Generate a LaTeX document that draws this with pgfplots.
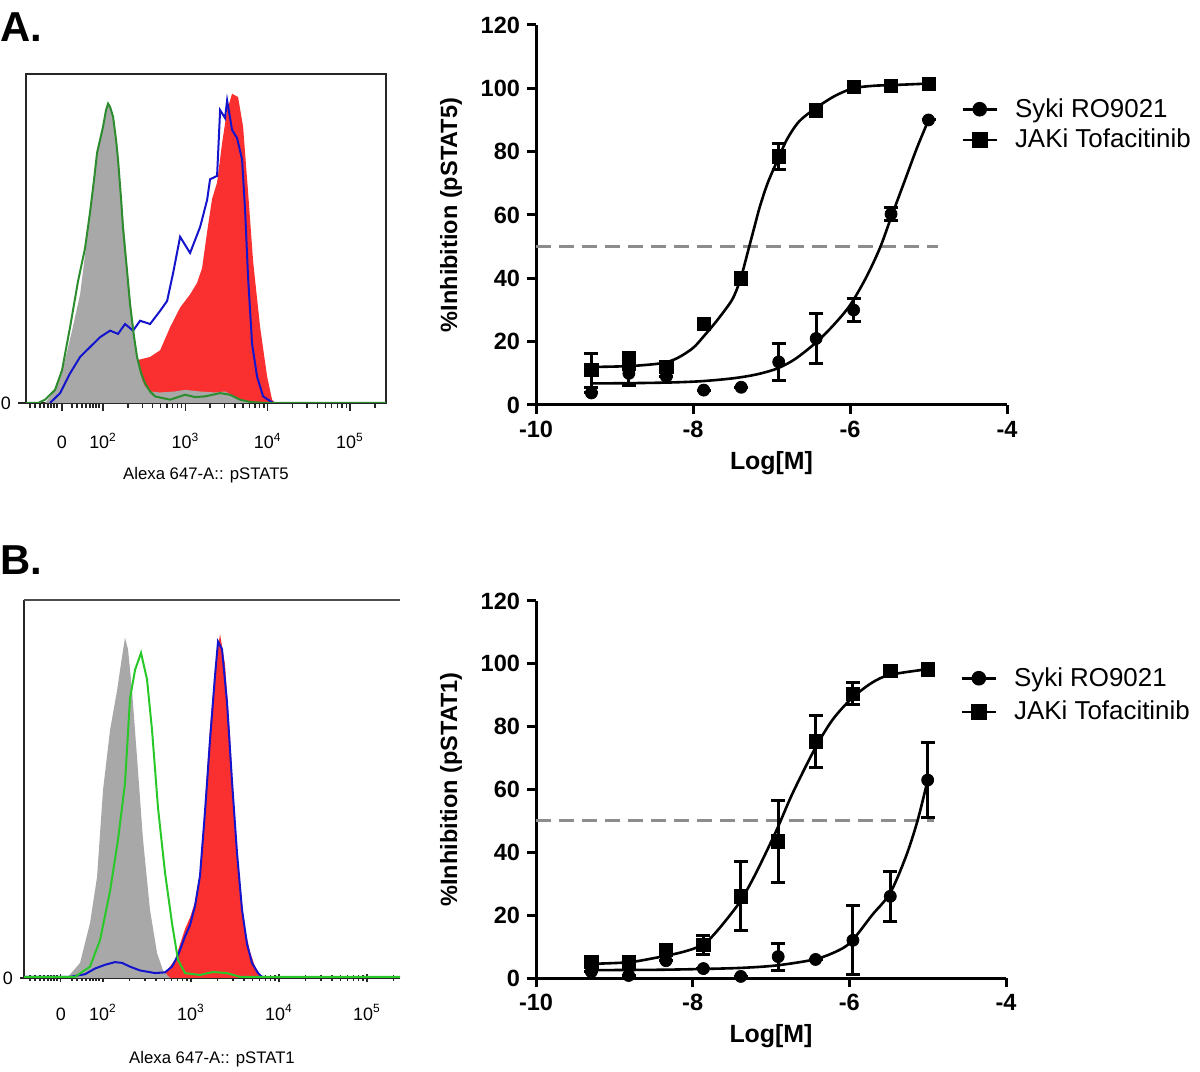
\documentclass[border=0pt]{standalone}
\usepackage{fontspec}
\setmainfont{Liberation Sans}
\usepackage{pgfplots}
\pgfplotsset{compat=1.18}

\definecolor{histgray}{RGB}{168,168,168}
\definecolor{histred}{RGB}{250,48,48}
\definecolor{histblue}{RGB}{20,20,205}
\definecolor{greenA}{RGB}{45,140,45}
\definecolor{greenB}{RGB}{40,200,40}
\definecolor{refgray}{RGB}{140,140,140}

\pgfplotsset{
  % flow histograms
  histo/.style={
    scale only axis, anchor=south west,
    ymin=0, ymax=100,
    tick align=outside, tick pos=left,
    major tick length=4bp, minor tick length=2.5bp,
    ytick={0}, yticklabels={0},
    axis line style={black!85, line width=1bp},
    tick style={black!85, line width=0.7bp},
    ticklabel style={font=\fontsize{9}{10}\selectfont},
    xticklabel style={anchor=base, yshift=-19bp},
    xtick={1.5,2,3,4,5},
    xticklabels={0,10\textsuperscript{2},10\textsuperscript{3},10\textsuperscript{4},10\textsuperscript{5}},
    xlabel style={font=\fontsize{8.4}{10}\selectfont, at={(axis description cs:0.5,0)}, anchor=center},
  },
  % dose response
  dose/.style={
    scale only axis, anchor=south west, clip=false,
    axis lines=left, axis line style={-, line width=1.5bp},
    xmin=-10, xmax=-4, ymin=0, ymax=120,
    xtick={-10,-8,-6,-4}, xticklabels={-10,-8,-6,-4},
    ytick={0,20,40,60,80,100,120}, yticklabels={0,20,40,60,80,100,120},
    tick align=outside, major tick length=4.5bp,
    tick style={line width=1.5bp, black},
    ticklabel style={font=\fontsize{11.8}{13}\selectfont\bfseries},
    xlabel={Log[M]},
    xlabel style={font=\fontsize{12.5}{14}\selectfont\bfseries, at={(axis description cs:0.5,0)}, yshift=-29bp, anchor=center},
    ylabel style={font=\fontsize{11.8}{13}\selectfont\bfseries, at={(axis description cs:-0.1805,0.5)}, anchor=center},
    legend cell align=left,
    legend style={draw=none, fill=none, inner sep=0pt, anchor=north west,
      font=\fontsize{13}{15}\selectfont, column sep=6.5bp, row sep=0.5bp},
  },
  curve/.style={black, line width=1.3bp, smooth, tension=0.5, forget plot},
  pts/.style={black, only marks, forget plot, mark options={solid},
    error bars/y dir=both, error bars/y explicit,
    error bars/error bar style={line width=1.5bp, black},
    error bars/error mark options={rotate=90, mark size=3.5bp, line width=1.5bp, black}},
  half/.style={refgray, line width=1.5bp, dash pattern=on 7.5bp off 4bp, forget plot},
}

\begin{document}
\begin{tikzpicture}
\path[use as bounding box] (0bp,0bp) rectangle (600bp,536bp);

\node[anchor=north west, inner sep=0pt, font=\fontsize{21}{24}\selectfont\bfseries] at (0bp,530bp) {A.};
\node[anchor=north west, inner sep=0pt, font=\fontsize{21}{24}\selectfont\bfseries] at (0bp,263.5bp) {B.};

% ---------- A: pSTAT5 histogram ----------
\begin{axis}[histo,
    at={(13bp,334.5bp)}, width=180bp, height=164.5bp,
    xmin=1.064, xmax=5.437,
    minor xtick={1.113,1.174,1.235,1.283,1.332,1.368,1.405,1.441,1.623,1.684,1.745,1.793,1.842,1.878,1.915,1.951,
      2.301,2.477,2.602,2.699,2.778,2.845,2.903,2.954,
      3.301,3.477,3.602,3.699,3.778,3.845,3.903,3.954,
      4.301,4.477,4.602,4.699,4.778,4.845,4.903,4.954,5.301},
    xlabel={Alexa 647-A:: pSTAT5}, xlabel style={yshift=-36bp},
]
  % stimulated
  \addplot[fill=histred, draw=none] coordinates {
    (2.401,0) (2.413,13) (2.571,14) (2.693,16) (2.814,23) (2.936,29) (3.057,33)
    (3.142,36.5) (3.203,41) (3.264,52) (3.324,62) (3.385,67) (3.446,79) (3.507,89)
    (3.567,94) (3.640,93) (3.701,84) (3.762,64) (3.823,43) (3.908,23) (3.993,8)
    (4.053,1) (4.090,0)
  } \closedcycle;
  % unstimulated
  \addplot[fill=histgray, draw=none] coordinates {
    (1.295,0) (1.356,2) (1.453,6) (1.538,13) (1.623,22) (1.721,33) (1.781,45)
    (1.842,58) (1.891,68) (1.927,77) (1.964,81) (2.0,84) (2.036,89) (2.061,91)
    (2.085,90) (2.122,86) (2.158,79) (2.182,73) (2.231,60) (2.267,50) (2.304,38)
    (2.352,27) (2.389,19) (2.425,12) (2.474,7) (2.510,5) (2.571,3.5) (2.693,3.2)
    (2.875,3.5) (2.996,4) (3.179,3.5) (3.361,3.2) (3.482,3.5) (3.604,2) (3.725,0.5)
    (3.847,0)
  } \closedcycle;
  % Syk inhibitor
  \addplot[histblue, line width=1bp] coordinates {
    (1.356,0) (1.478,3) (1.599,9) (1.721,14) (1.842,17) (1.964,20) (2.085,22)
    (2.182,21) (2.267,24) (2.365,22) (2.450,25) (2.571,24) (2.693,28) (2.778,31)
    (2.851,39.5) (2.936,50.5) (3.057,45.6) (3.179,53.5) (3.264,61.7) (3.300,68)
    (3.385,69) (3.422,89) (3.482,86.6) (3.507,92) (3.567,83) (3.628,80.5)
    (3.689,74) (3.725,58.7) (3.762,38) (3.810,18) (3.871,8) (3.944,2) (4.066,0)
  };
  % JAK inhibitor
  \addplot[greenA, line width=1bp] coordinates {
    (1.064,0) (1.210,0) (1.295,1) (1.417,4) (1.502,10) (1.599,23) (1.696,37)
    (1.781,47) (1.842,58) (1.891,68) (1.927,76) (1.964,80) (2.0,84) (2.036,89)
    (2.061,91) (2.085,90) (2.122,87) (2.158,80) (2.182,74) (2.219,62) (2.243,53)
    (2.292,40) (2.328,30) (2.377,20) (2.413,14) (2.462,9) (2.510,6) (2.571,3.5)
    (2.632,2) (2.814,1) (2.996,2.5) (3.118,1.8) (3.239,2) (3.422,3) (3.543,2.5)
    (3.665,1) (3.786,0.3) (3.968,0) (5.437,0)
  };
\end{axis}

% ---------- A: pSTAT5 inhibition ----------
\begin{axis}[dose,
    at={(268bp,333.5bp)}, width=235.5bp, height=190bp,
    ylabel={\%Inhibition (pSTAT5)},
    legend style={at={(0.9024,0.8185)}},
]
  \addplot[half] coordinates {(-10,50) (-4.88,50)};
  \addplot[curve] coordinates {
    (-9.294,6.8) (-8.8,6.9) (-8.3,7.1) (-7.9,7.5) (-7.5,8.4) (-7.2,9.6)
    (-6.93,11.5) (-6.7,14.5) (-6.42,20) (-6.2,25.5) (-6.0,31.5) (-5.8,40)
    (-5.62,49.5) (-5.48,59) (-5.3,71) (-5.15,81) (-5.0,90)
  };
  \addplot[curve] coordinates {
    (-9.294,12.0) (-8.8,12.3) (-8.4,13.2) (-8.2,14.8) (-8.0,18.0) (-7.87,21.5)
    (-7.7,26.5) (-7.52,32.5) (-7.45,36) (-7.38,41) (-7.30,48.5) (-7.22,56)
    (-7.15,62.5) (-7.05,70) (-6.92,77.5) (-6.8,84) (-6.65,89.5) (-6.45,93.5)
    (-6.2,97.5) (-5.96,100) (-5.7,100.8) (-5.48,101) (-5.0,101.5)
  };
  \addplot[mark=*, mark size=3bp, pts] table[y error=e] {
    x       y     e
    -9.294  3.8   0
    -8.817  10.0  3.8
    -8.340  9.0   0
    -7.863  4.7   0
    -7.386  5.6   0
    -6.908  13.6  5.8
    -6.431  21.0  8.0
    -5.954  30.0  3.5
    -5.477  60.3  2.0
    -5.000  90.0  0
  };
  \addplot[mark=square*, mark size=3.3bp, pts] table[y error=e] {
    x       y      e
    -9.294  11.0   5.4
    -8.817  14.0   2.7
    -8.340  12.0   1.0
    -7.863  25.5   0
    -7.386  40.0   0
    -6.908  78.5   4.1
    -6.431  93.0   0
    -5.954  100.5  0
    -5.477  100.8  0
    -5.000  101.5  0
  };
  \addlegendimage{black, line width=1.3bp, mark=*, mark size=3bp}
  \addlegendentry{Syki RO9021}
  \addlegendimage{black, line width=1.3bp, mark=square*, mark size=3.3bp}
  \addlegendentry{JAKi Tofacitinib}
\end{axis}

% ---------- B: pSTAT1 histogram ----------
\begin{axis}[histo,
    at={(12bp,47bp)}, width=188bp, height=189bp,
    xmin=1.102, xmax=5.375,
    axis lines=left, axis line style={-},
    xtick={1.52,2,3,4,5},
    minor xtick={1.170,1.227,1.284,1.330,1.375,1.409,1.443,1.477,1.648,1.705,1.761,1.807,1.852,1.886,1.920,1.955,
      2.301,2.477,2.602,2.699,2.778,2.845,2.903,2.954,
      3.301,3.477,3.602,3.699,3.778,3.845,3.903,3.954,
      4.301,4.477,4.602,4.699,4.778,4.845,4.903,4.954,5.301},
    xlabel={Alexa 647-A:: pSTAT1}, xlabel style={yshift=-40.5bp},
]
  \draw[black!70, line width=0.8bp] (rel axis cs:0,1) -- (rel axis cs:1,1);
  \addplot[fill=histred, draw=none] coordinates {
    (2.682,0) (2.705,1.3) (2.818,4.8) (2.932,13) (2.989,16) (3.045,20) (3.102,28)
    (3.159,46) (3.216,66) (3.273,82) (3.330,91) (3.386,83) (3.443,64) (3.5,40)
    (3.557,24) (3.614,13) (3.670,7) (3.727,3) (3.784,1) (3.818,0)
  } \closedcycle;
  \addplot[fill=histgray, draw=none] coordinates {
    (1.591,0) (1.739,4) (1.852,14.5) (1.932,26.7) (2.0,49.7) (2.080,65.6)
    (2.159,76) (2.216,85) (2.250,90) (2.284,87) (2.330,76) (2.386,58.5)
    (2.455,36.5) (2.534,18) (2.614,6.6) (2.682,2) (2.761,0)
  } \closedcycle;
  \addplot[histblue, line width=1bp] coordinates {
    (1.102,0.3) (1.625,0.3) (1.795,1) (1.909,2.5) (2.023,3.5) (2.136,4.2)
    (2.216,4) (2.307,3) (2.420,2) (2.591,1.3) (2.705,1.5) (2.784,3) (2.852,6)
    (2.932,11) (2.989,14) (3.045,19) (3.102,27) (3.159,44) (3.216,63) (3.273,80)
    (3.307,89) (3.352,87) (3.409,73) (3.466,52) (3.523,33) (3.580,18) (3.636,9)
    (3.693,4) (3.761,1.3) (3.807,0.3) (3.841,0.3)
  };
  \addplot[greenB, line width=1bp] coordinates {
    (1.102,0.3) (1.682,0.3) (1.852,3) (1.966,10) (2.080,23) (2.170,36.5)
    (2.250,51.6) (2.307,74) (2.364,81.5) (2.432,86) (2.5,79) (2.557,65.6)
    (2.625,45) (2.705,27.8) (2.784,14.5) (2.852,4.8) (2.932,1.3) (3.102,0.8)
    (3.250,1.6) (3.409,1.3) (3.557,0.3) (5.375,0.3)
  };
\end{axis}

% ---------- B: pSTAT1 inhibition ----------
\begin{axis}[dose,
    at={(268bp,47bp)}, width=235bp, height=188.5bp,
    ylabel={\%Inhibition (pSTAT1)},
    ylabel style={at={(axis description cs:-0.181,0.5)}},
    legend style={at={(0.9024,0.8356)}, row sep=2bp},
]
  \addplot[half] coordinates {(-10,50) (-4.92,50)};
  \addplot[curve] coordinates {
    (-9.294,2.5) (-8.5,2.6) (-8.0,2.8) (-7.4,3.2) (-6.93,4) (-6.43,6) (-6.12,9)
    (-5.96,12) (-5.71,20) (-5.48,27) (-5.28,38.5) (-5.13,50) (-5.0,63)
  };
  \addplot[curve] coordinates {
    (-9.294,4.5) (-8.82,5.0) (-8.5,6.3) (-8.17,8) (-7.95,9.7) (-7.8,12)
    (-7.62,17) (-7.39,24.5) (-7.19,33.5) (-6.93,47) (-6.73,58.5) (-6.45,72.5)
    (-6.22,82) (-5.97,89) (-5.71,94) (-5.48,96.5) (-5.0,98.3)
  };
  \addplot[mark=*, mark size=3bp, pts] table[y error=e] {
    x       y     e
    -9.294  2.0   0
    -8.817  0.8   0
    -8.340  5.5   0
    -7.863  3.0   0
    -7.386  0.5   0
    -6.908  6.8   4.3
    -6.431  5.9   0
    -5.954  12.0  11.0
    -5.477  26.0  8.0
    -5.000  63.0  12.0
  };
  \addplot[mark=square*, mark size=3.3bp, pts] table[y error=e] {
    x       y     e
    -9.294  5.2   0
    -8.817  5.2   0
    -8.340  9.0   1.5
    -7.863  10.5  3.0
    -7.386  26.0  11.0
    -6.908  43.5  13.0
    -6.431  75.3  8.3
    -5.954  90.5  3.5
    -5.477  97.7  0
    -5.000  98.2  0
  };
  \addlegendimage{black, line width=1.3bp, mark=*, mark size=3bp}
  \addlegendentry{Syki RO9021}
  \addlegendimage{black, line width=1.3bp, mark=square*, mark size=3.3bp}
  \addlegendentry{JAKi Tofacitinib}
\end{axis}
\end{tikzpicture}
\end{document}
